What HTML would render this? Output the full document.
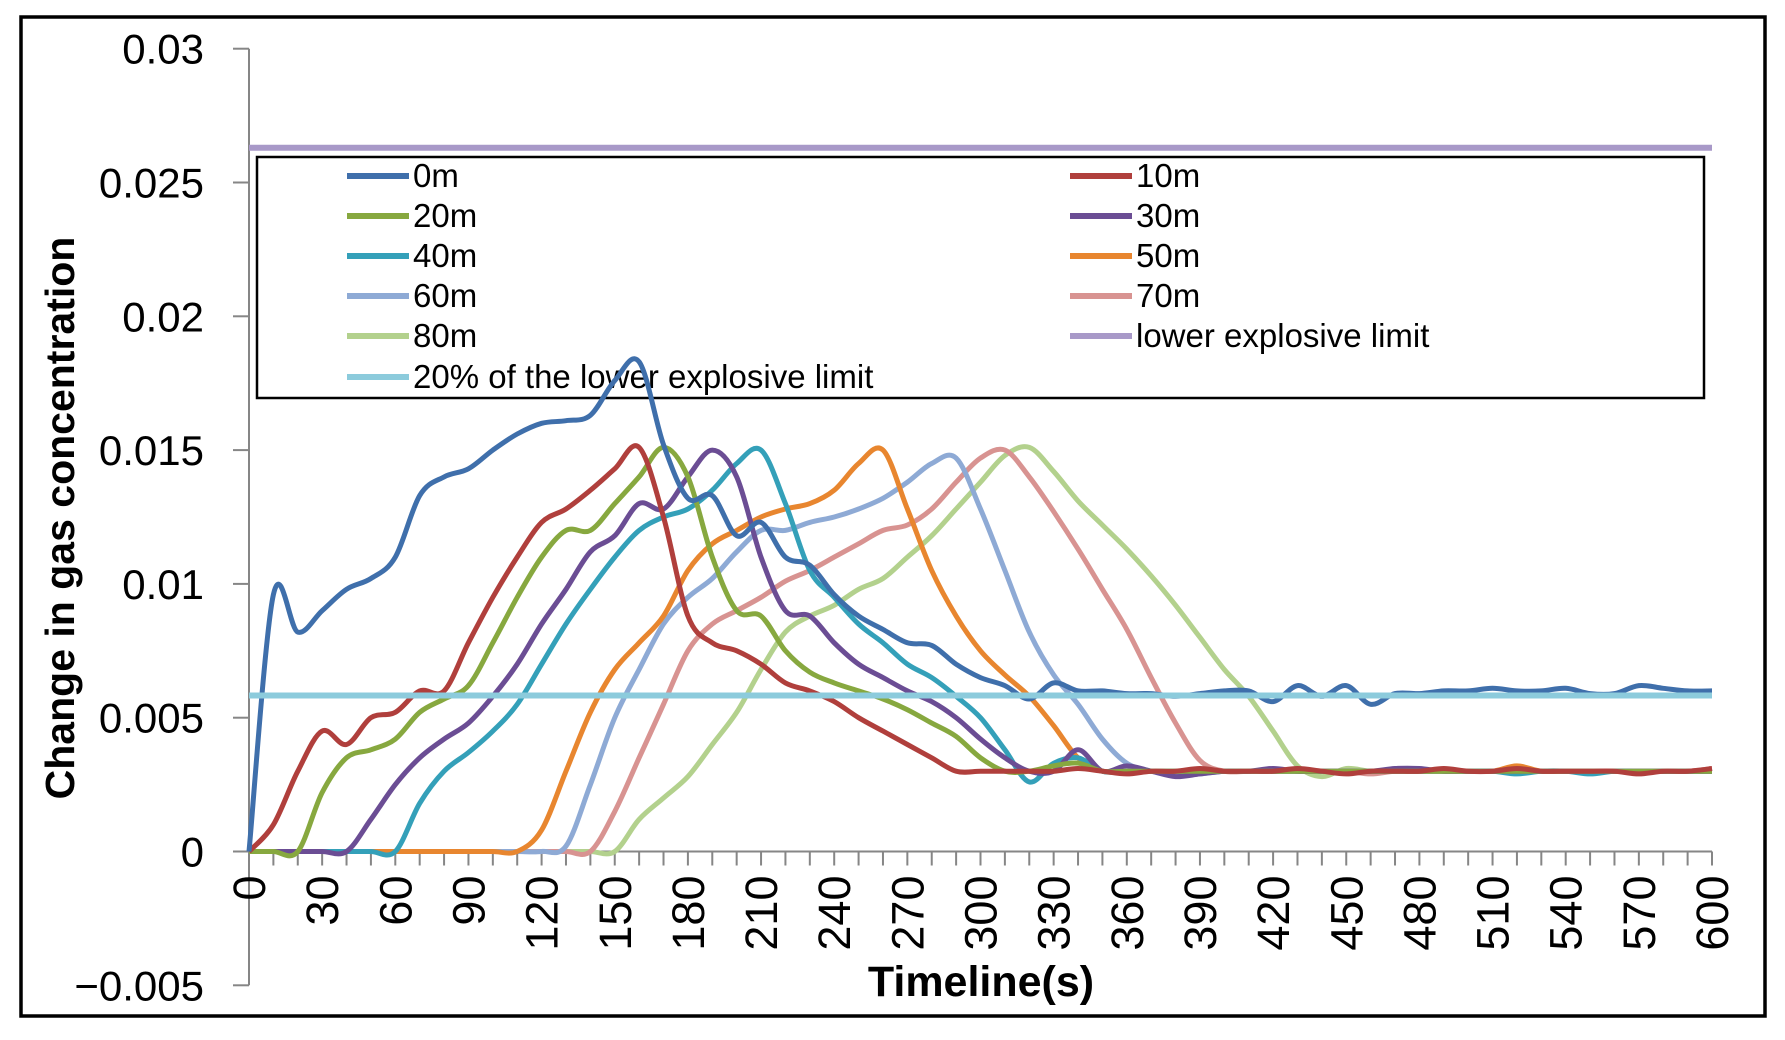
<!DOCTYPE html>
<html><head><meta charset="utf-8"><style>
html,body{margin:0;padding:0;background:#fff;}
svg{display:block;font-family:"Liberation Sans",sans-serif;}
</style></head><body>
<svg id="chart" width="1785" height="1040" viewBox="0 0 1785 1040" xmlns="http://www.w3.org/2000/svg">
<rect x="21" y="17" width="1744" height="999" fill="#fff" stroke="#000" stroke-width="3.5"/>
<g id="grid"></g>
<g id="legend"></g>
<g id="series"></g>
<text transform="translate(74,518) rotate(-90)" text-anchor="middle" font-weight="bold" font-size="41" fill="#000">Change in gas concentration</text>
<text x="981" y="996" text-anchor="middle" font-weight="bold" font-size="43" fill="#000">Timeline(s)</text>
</svg>
<script>
const times = [];
for (let t = 0; t <= 600; t += 10) times.push(t);
const yTicks = [0.03, 0.025, 0.02, 0.015, 0.01, 0.005, 0, -0.005];
const yTickLabels = ["0.03", "0.025", "0.02", "0.015", "0.01", "0.005", "0", "\u22120.005"];
const xTicks = [0,30,60,90,120,150,180,210,240,270,300,330,360,390,420,450,480,510,540,570,600];
const lel = 0.0263;
const lel20 = 0.00583;
const s0m = [0,0.0096,0.0082,0.009,0.0098,0.0102,0.011,0.0133,0.014,0.0143,0.015,0.0156,0.016,0.0161,0.0163,0.0176,0.0183,0.0152,0.0132,0.0133,0.0118,0.0123,0.011,0.0107,0.0096,0.0088,0.0083,0.0078,0.0077,0.007,0.0065,0.0062,0.0057,0.0063,0.006,0.006,0.0059,0.0059,0.0058,0.0059,0.006,0.006,0.0056,0.0062,0.0058,0.0062,0.0055,0.0059,0.0059,0.006,0.006,0.0061,0.006,0.006,0.0061,0.0059,0.0059,0.0062,0.0061,0.006,0.006];
const s10m = [0,0.001,0.003,0.0045,0.004,0.005,0.0052,0.006,0.006,0.0078,0.0095,0.011,0.0123,0.0128,0.0135,0.0143,0.0151,0.0125,0.0088,0.0078,0.0075,0.007,0.0063,0.006,0.0056,0.005,0.0045,0.004,0.0035,0.003,0.003,0.003,0.003,0.003,0.0031,0.003,0.0029,0.003,0.003,0.0031,0.003,0.003,0.003,0.0031,0.003,0.0029,0.003,0.003,0.003,0.0031,0.003,0.003,0.0031,0.003,0.003,0.003,0.003,0.0029,0.003,0.003,0.0031];
const s20m = [0,0,0,0.0022,0.0035,0.0038,0.0042,0.0052,0.0057,0.0062,0.0078,0.0095,0.011,0.012,0.012,0.013,0.014,0.0151,0.014,0.011,0.009,0.0088,0.0075,0.0067,0.0063,0.006,0.0057,0.0053,0.0048,0.0043,0.0035,0.003,0.003,0.0032,0.0033,0.003,0.003,0.003,0.003,0.003,0.003,0.003,0.003,0.003,0.003,0.003,0.003,0.003,0.003,0.003,0.003,0.003,0.003,0.003,0.003,0.003,0.003,0.003,0.003,0.003,0.003];
const s30m = [0,0,0,0,0,0.0012,0.0025,0.0035,0.0042,0.0048,0.0058,0.007,0.0085,0.0098,0.0112,0.0118,0.013,0.0128,0.014,0.015,0.014,0.011,0.009,0.0088,0.0078,0.007,0.0065,0.006,0.0056,0.005,0.0042,0.0035,0.003,0.003,0.0038,0.003,0.0032,0.003,0.0028,0.0029,0.003,0.003,0.0031,0.003,0.003,0.003,0.003,0.0031,0.0031,0.003,0.003,0.003,0.003,0.003,0.003,0.003,0.003,0.003,0.003,0.003,0.003];
const s40m = [0,0,0,0,0,0,0,0.0018,0.003,0.0037,0.0045,0.0055,0.007,0.0085,0.0098,0.011,0.012,0.0125,0.0128,0.0135,0.0145,0.015,0.013,0.0105,0.0095,0.0085,0.0078,0.007,0.0065,0.0058,0.005,0.0038,0.0026,0.0033,0.0035,0.003,0.003,0.003,0.003,0.003,0.003,0.003,0.003,0.003,0.003,0.003,0.003,0.003,0.003,0.003,0.003,0.003,0.0029,0.003,0.003,0.0029,0.003,0.003,0.003,0.003,0.003];
const s50m = [0,0,0,0,0,0,0,0,0,0,0,0,0.0008,0.003,0.0052,0.0068,0.0078,0.0088,0.0105,0.0115,0.012,0.0125,0.0128,0.013,0.0135,0.0145,0.015,0.0128,0.0105,0.0088,0.0075,0.0066,0.0058,0.0047,0.0035,0.003,0.003,0.003,0.003,0.003,0.003,0.003,0.003,0.003,0.003,0.003,0.003,0.003,0.003,0.003,0.003,0.003,0.0032,0.003,0.003,0.003,0.003,0.003,0.003,0.003,0.003];
const s60m = [0,0,0,0,0,0,0,0,0,0,0,0,0,0.0002,0.0025,0.005,0.0068,0.0085,0.0095,0.0102,0.0112,0.012,0.012,0.0123,0.0125,0.0128,0.0132,0.0138,0.0145,0.0147,0.0128,0.0105,0.0082,0.0066,0.0055,0.0042,0.0033,0.003,0.0029,0.0029,0.003,0.003,0.003,0.003,0.003,0.003,0.003,0.003,0.003,0.003,0.003,0.003,0.003,0.003,0.003,0.003,0.003,0.003,0.003,0.003,0.003];
const s70m = [0,0,0,0,0,0,0,0,0,0,0,0,0,0,0,0.0015,0.0035,0.0055,0.0075,0.0085,0.009,0.0095,0.0101,0.0105,0.011,0.0115,0.012,0.0122,0.0128,0.0138,0.0147,0.015,0.014,0.0127,0.0113,0.0098,0.0083,0.0065,0.0048,0.0034,0.003,0.003,0.003,0.003,0.003,0.003,0.0029,0.003,0.003,0.003,0.003,0.003,0.003,0.003,0.003,0.003,0.003,0.003,0.003,0.003,0.0031];
const s80m = [0,0,0,0,0,0,0,0,0,0,0,0,0,0,0,0,0.0012,0.002,0.0028,0.004,0.0052,0.0068,0.0082,0.0088,0.0092,0.0098,0.0102,0.011,0.0118,0.0128,0.0138,0.0148,0.0151,0.0142,0.0131,0.0122,0.0113,0.0103,0.0092,0.008,0.0068,0.0058,0.0045,0.0032,0.0028,0.0031,0.003,0.003,0.003,0.003,0.003,0.003,0.003,0.003,0.003,0.003,0.003,0.003,0.003,0.003,0.003];
const seriesNames = ["0m","10m","20m","30m","40m","50m","60m","70m","80m"];
const seriesData = [s0m,s10m,s20m,s30m,s40m,s50m,s60m,s70m,s80m];
const colors = ["#3f6fab","#b03f3c","#87a83f","#6b4d94","#34a0b9","#e8862f","#8eaad5","#d89391","#b3d18d"];

const NS = "http://www.w3.org/2000/svg";
const X0 = 249, X1 = 1712, YTOP = 49, YZERO = 851.5;
function xs(t){ return X0 + (t/600)*(X1-X0); }
function ys(v){ return YZERO - v/0.005*133.8; }
function mk(tag, attrs, parent){ const e=document.createElementNS(NS,tag); for(const k in attrs) e.setAttribute(k,attrs[k]); parent.appendChild(e); return e; }
const grid=document.getElementById('grid'), ser=document.getElementById('series'), leg=document.getElementById('legend');

const yAxis = mk('line',{x1:X0,x2:X0,y1:ys(0.03),y2:ys(-0.005),stroke:'#868686','stroke-width':2},grid);


yTicks.forEach((v,i)=>{
  const tk = mk('line',{x1:X0-16,x2:X0,y1:ys(v),y2:ys(v),stroke:'#868686','stroke-width':2},grid);
  
  
  const lb = mk('text',{x:204,y:ys(v)+15,'text-anchor':'end','font-size':42,fill:'#000'},grid);
  lb.textContent = yTickLabels[i];
  
  
});
const xAxis = mk('line',{x1:X0,x2:X1,y1:YZERO,y2:YZERO,stroke:'#868686','stroke-width':2},grid);


times.forEach(t=>{
  const tk = mk('line',{x1:xs(t),x2:xs(t),y1:YZERO,y2:YZERO+14,stroke:'#868686','stroke-width':2},grid);
  
  
});
xTicks.forEach(t=>{
  const lb = mk('text',{transform:`translate(${xs(t)+16},${YZERO+24}) rotate(-90)`,'text-anchor':'end','font-size':45,fill:'#000'},grid);
  lb.textContent = String(t);
  
  
});

function smoothPath(pts){
  let d=`M${pts[0][0]},${pts[0][1]}`;
  for(let i=0;i<pts.length-1;i++){
    const p0=pts[Math.max(0,i-1)],p1=pts[i],p2=pts[i+1],p3=pts[Math.min(pts.length-1,i+2)];
    const c1x=p1[0]+(p2[0]-p0[0])/6,c1y=p1[1]+(p2[1]-p0[1])/6;
    const c2x=p2[0]-(p3[0]-p1[0])/6,c2y=p2[1]-(p3[1]-p1[1])/6;
    d+=` C${c1x.toFixed(1)},${c1y.toFixed(1)} ${c2x.toFixed(1)},${c2y.toFixed(1)} ${p2[0].toFixed(1)},${p2[1].toFixed(1)}`;
  }
  return d;
}
for(let k=seriesData.length-1;k>=0;k--){
  const pts = seriesData[k].map((v,i)=>[xs(times[i]),ys(v)]);
  const p = mk('path',{d:smoothPath(pts),fill:'none',stroke:colors[k],'stroke-width':5,'stroke-linejoin':'round'},ser);
  
  
}
const l1 = mk('line',{x1:X0,x2:X1,y1:ys(lel),y2:ys(lel),stroke:'#a899c8','stroke-width':6},ser);


const l2 = mk('line',{x1:X0,x2:X1,y1:ys(lel20),y2:ys(lel20),stroke:'#8ccbdc','stroke-width':6},ser);



const box = mk('rect',{x:257,y:157,width:1447,height:241,fill:'#fff',stroke:'#000','stroke-width':2.5},leg);


const legNames = seriesNames.concat(["lower explosive limit","20% of the lower explosive limit"]);
const legColors = colors.concat(["#a899c8","#8ccbdc"]);
const rowsY=[176,216,256,296,336,377];
legNames.forEach((n,i)=>{
  const col=i%2, row=Math.floor(i/2);
  const lx = col===0?347:1070, y=rowsY[row];
  const g = mk('g',{},leg);
  
  
  mk('line',{x1:lx,x2:lx+62,y1:y,y2:y,stroke:legColors[i],'stroke-width':6},g);
  const t = mk('text',{x:lx+66,y:y+11,'font-size':33,fill:'#000'},g);
  t.textContent=n;
});
</script>
</body></html>
